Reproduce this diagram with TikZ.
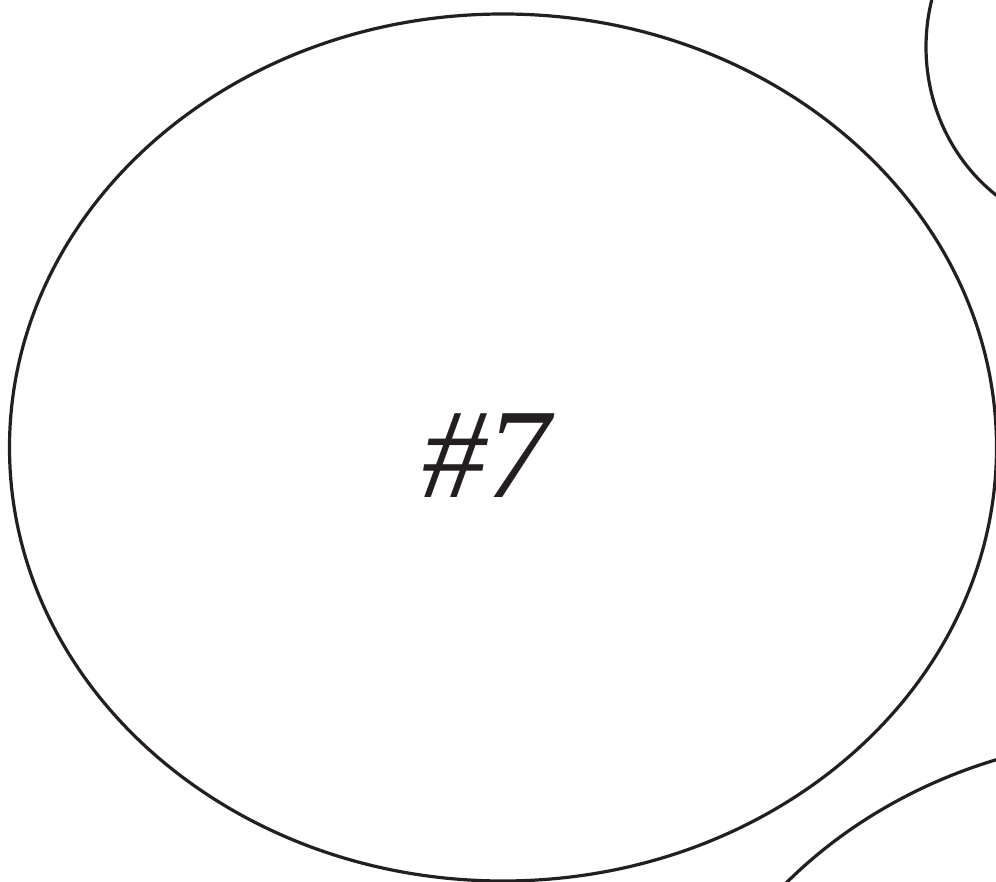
\documentclass[tikz,border=0pt]{standalone}
\usepackage{fontspec}
\newfontfamily\numfont{Liberation Serif}
\definecolor{ink}{HTML}{231F20}
\begin{document}
\begin{tikzpicture}[x=1pt,y=-1pt,
  outline/.style={draw=ink,line width=3.2pt},
  label7/.style={text=ink,font=\numfont\fontsize{128}{128}\selectfont\itshape,inner sep=0pt}]
\useasboundingbox (0,0) rectangle (996,882);
\clip (0,0) rectangle (996,882);
\fill[white] (0,0) rectangle (996,882);
\draw[outline] (503,447.5) ellipse [x radius=493.5pt, y radius=433.5pt];
\draw[outline] (1101,47) ellipse [x radius=175pt, y radius=185pt];
\draw[outline] (1156,1170) ellipse [x radius=493.5pt, y radius=433.5pt];
\node[label7] (num) at (486,456) {\#7};
\end{tikzpicture}
\end{document}
